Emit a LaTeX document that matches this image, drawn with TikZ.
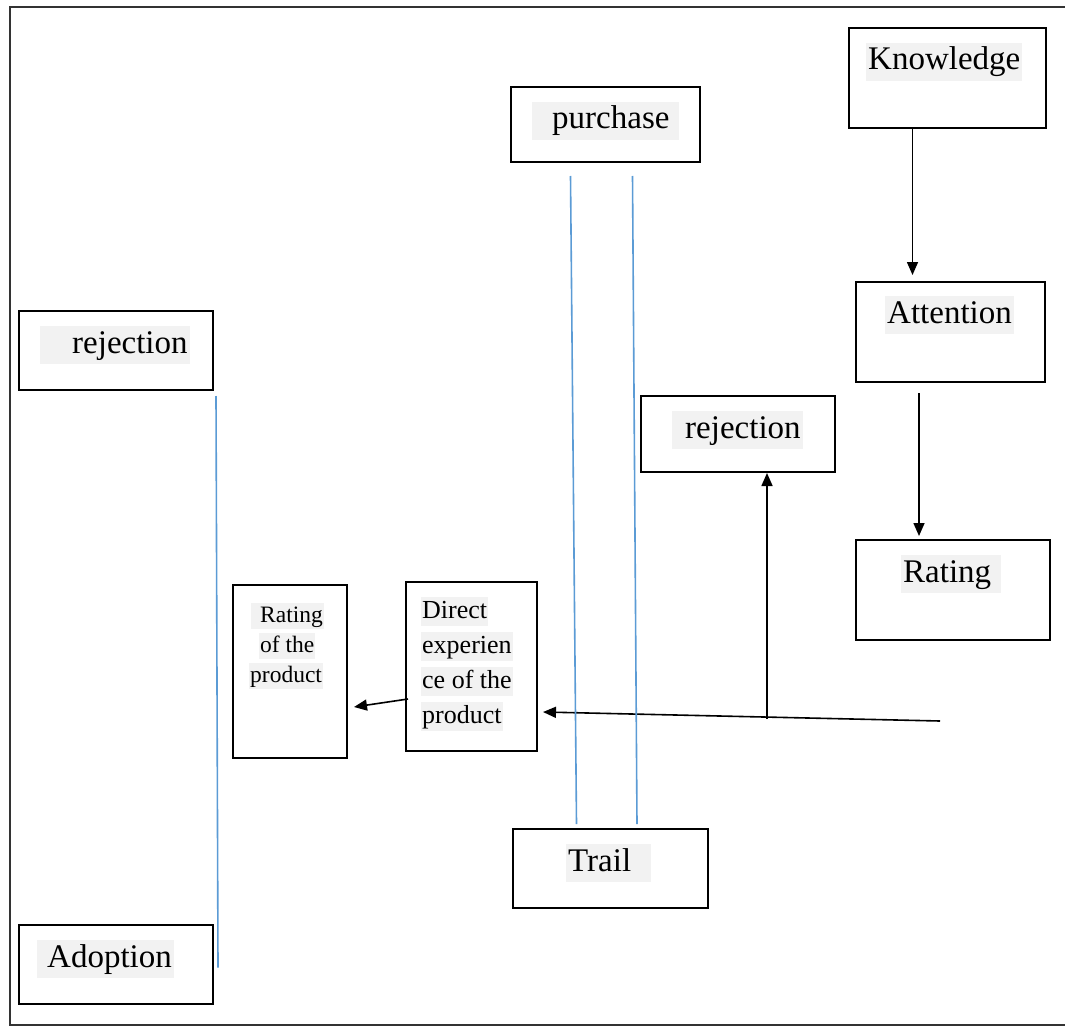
\documentclass[tikz,border=0pt]{standalone}
\usepackage{fontspec}
\setmainfont{Liberation Serif}
\usetikzlibrary{arrows.meta,calc}
\definecolor{lineblue}{HTML}{5B9BD5}
\definecolor{hlgray}{HTML}{F2F2F2}
\tikzset{
	frame/.style={draw=black!80, line width=2pt},
	box/.style={draw=black, line width=2pt, inner sep=0pt},
	hl/.style={fill=hlgray, inner xsep=2pt, inner ysep=3pt, text height=24pt, text depth=8pt, font=\fontsize{33}{40}\selectfont},
	hlsmall/.style={fill=hlgray, inner xsep=1pt, inner ysep=1pt, text height=18pt, text depth=6pt, font=\fontsize{23.5}{30}\selectfont},
	hlmid/.style={fill=hlgray, inner xsep=1pt, inner ysep=1pt, text height=20pt, text depth=7pt, font=\fontsize{26}{34}\selectfont},
	arr/.style={draw=black, line width=1.6pt, -{Triangle[length=13pt,width=11pt]}},
	blueline/.style={draw=lineblue, line width=1.6pt}
}

\begin{document}
\begin{tikzpicture}[x=1pt,y=-1pt]
		%%%%% START %%%%%
		\useasboundingbox (0,0) rectangle (1065,1027);
		\draw[frame] (1065,7) -- (10,7) -- (10,1025) -- (1065,1025);
		
		% boxes
		\node[box, minimum width=197pt, minimum height=100pt] (know) at (947.5,78) {};
		\node[box, minimum width=189pt, minimum height=75pt] (purch) at (605.5,124.5) {};
		\node[box, minimum width=189pt, minimum height=100pt] (att) at (950.5,332) {};
		\node[box, minimum width=194pt, minimum height=76pt] (rejR) at (738,434) {};
		\node[box, minimum width=194pt, minimum height=100pt] (rate) at (953,590) {};
		\node[box, minimum width=194pt, minimum height=79pt] (rejL) at (116,350.5) {};
		\node[box, minimum width=114pt, minimum height=173pt] (rop) at (290,671.5) {};
		\node[box, minimum width=131pt, minimum height=169pt] (dexp) at (471.5,666) {};
		\node[box, minimum width=195pt, minimum height=79pt] (trail) at (610.5,868.5) {};
		\node[box, minimum width=194pt, minimum height=79pt] (adopt) at (116,964.5) {};
		
		% texts
		\node[hl, anchor=base west] (knowT) at (866,70) {Knowledge};
		\node[hl, anchor=base west] (purchT) at (532,129) {\hspace*{18pt}purchase\hspace*{8pt}};
		\node[hl, anchor=base west] (attT) at (885,323) {Attention};
		\node[hl, anchor=base west] (rejRT) at (672,438) {\hspace*{11pt}rejection};
		\node[hl, anchor=base west] (rateT) at (901,582) {Rating\hspace*{8pt}};
		\node[hl, anchor=base west] (rejLT) at (40,353) {\hspace*{30pt}rejection};
		\node[hl, anchor=base west] (trailT) at (566,871) {Trail\hspace*{18pt}};
		\node[hl, anchor=base west] (adoptT) at (37,967) {\hspace*{8pt}Adoption};
		
		\node[hlsmall, anchor=base west] (rop1) at (251,622) {\hspace*{8pt}Rating};
		\node[hlsmall, anchor=base west] (rop2) at (259,652) {of the};
		\node[hlsmall, anchor=base west] (rop3) at (249,682) {product};
		
		\node[hlmid, anchor=base west] (dexp1) at (421,618) {Direct};
		\node[hlmid, anchor=base west] (dexp2) at (421,653) {experien};
		\node[hlmid, anchor=base west] (dexp3) at (421,688) {ce of the};
		\node[hlmid, anchor=base west] (dexp4) at (421,723) {product};
		
		% arrows
		\coordinate (k1) at ([xshift=-35pt]know.south);
		\draw[arr] (k1) -- ($(k1 |- att.north)+(0,-6)$);
		\coordinate (a1) at ([xshift=-31.5pt]att.south);
		\draw[arr] ($(a1)+(0,10)$) -- ($(a1 |- rate.north)+(0,-3)$);
		\coordinate (hstart) at (940,721);
		\draw[arr] (hstart) -- ($(dexp.east)+(5,46)$);
		\coordinate (hmid) at (767,719);
		\draw[arr] (hmid) -- (hmid |- rejR.south);
		\draw[arr] ($(dexp.west)+(3,33)$) -- ($(rop.east)+(6,35.5)$);
		
		% blue lines
		\draw[blueline] ($(rejL.south east)+(2,5)$) -- ($(adopt.east)+(4,3)$);
		\draw[blueline] ($(purch.south)+(-35,13)$) -- ($(trail.north)+(-34,-4)$);
		\draw[blueline] ($(purch.south)+(27,13)$) -- ($(trail.north)+(26.5,-4)$);
		%%%%% END %%%%%
\end{tikzpicture}
\end{document}
